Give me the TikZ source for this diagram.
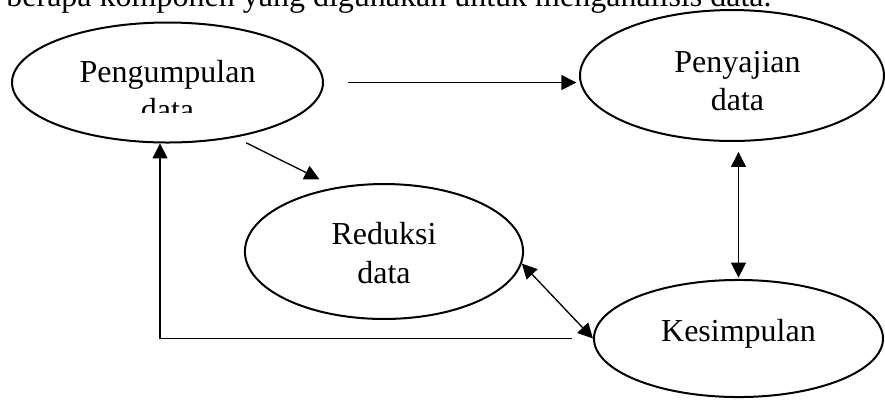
\documentclass[tikz,border=0pt]{standalone}
\usepackage{fontspec}
\setmainfont{Liberation Serif}
\usetikzlibrary{shapes.geometric,arrows.meta}

\begin{document}
\begin{tikzpicture}[x=0.375pt,y=-0.375pt,
  oval/.style={draw,ellipse,line width=0.75pt,inner sep=0pt},
  teks/.style={align=center,anchor=base,font=\fontsize{12pt}{14.4pt}\selectfont},
  panah/.style={line width=0.5pt,-{Triangle[length=5.6pt,width=5.6pt]}},
  panahdua/.style={line width=0.5pt,{Triangle[length=5.6pt,width=5.6pt]}-{Triangle[length=5.6pt,width=5.6pt]}}]
\useasboundingbox (0,0) rectangle (885,399);
\clip (0,0) rectangle (885,399);
% kalimat di atas (terpotong)
\node (atas) [teks,anchor=base west] at (-3,6) {berapa komponen yang digunakan untuk menganalisis data.};
% elips
\node (kumpul) [oval,minimum width=116.6pt,minimum height=45pt] at (167.5,82.5) {};
\node (saji) [oval,minimum width=114pt,minimum height=49.1pt] at (732,75.5) {};
\node (reduksi) [oval,minimum width=104.3pt,minimum height=50.6pt] at (384,251.5) {};
\node (simpul) [oval,minimum width=108.4pt,minimum height=43.9pt] at (738.5,338.5) {};
% teks (base = baris terakhir)
\begin{scope}
\clip (0,0) rectangle (885,112);
\node (kumpul-teks) [teks] at (167.5,120.5) {Pengumpulan\\data};
\end{scope}
\node (saji-teks) [teks] at (737.5,110.7) {Penyajian\\data};
\node (reduksi-teks) [teks] at (384,283) {Reduksi\\data};
\node (simpul-teks) [teks] at (738.5,341) {Kesimpulan};
% panah
\draw[panah,shorten <=9pt,shorten >=1pt] (kumpul.east) -- (kumpul.east -| saji.west);
\draw[panah,shorten <=4.5pt,shorten >=6.75pt] (kumpul.-39) -- (reduksi.127);
\draw[panahdua,shorten <=3.75pt,shorten >=0.5pt] (saji.south -| simpul.north) -- (simpul.north);
\draw[panahdua] (reduksi.-5) -- (simpul.west);
\draw[panah] ([xshift=-7.9pt]simpul.west) -| (kumpul.-97);
\end{tikzpicture}
\end{document}
